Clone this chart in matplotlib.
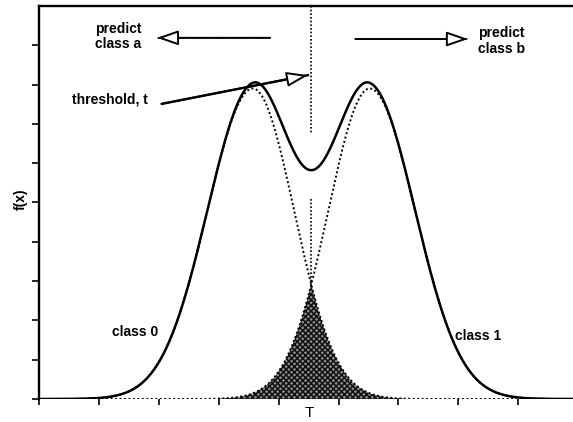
import matplotlib
matplotlib.use("Agg")
import matplotlib.pyplot as plt
import numpy as np

plt.rcParams["font.family"] = ["Liberation Sans", "DejaVu Sans"]
plt.rcParams["hatch.linewidth"] = 1.1

# two class-conditional densities (two-piece normal: wider on the outer side)
class_names = ["class 0", "class 1"]
class_means = [3.57, 5.52]
class_peak = 7.9
sigma_outer = 0.76
sigma_inner = 0.69
threshold = 4.545

x_ticks = [0, 1, 2, 3, 4, 5, 6, 7, 8]
y_ticks = [0, 1, 2, 3, 4, 5, 6, 7, 8, 9]

x = np.linspace(0, 9.2, 1200)


def density(mu, inner_right):
    s = np.where((x > mu) == inner_right, sigma_inner, sigma_outer)
    return class_peak * np.exp(-(x - mu) ** 2 / (2 * s ** 2))


f0 = density(class_means[0], True)
f1 = density(class_means[1], False)
mix = f0 + f1
overlap = np.minimum(f0, f1)
y_cross = class_peak * np.exp(-(threshold - class_means[0]) ** 2 / (2 * sigma_inner ** 2))

fig = plt.figure(figsize=(5.73, 4.22), dpi=100)
ax = fig.add_axes([39 / 573, 23 / 422, 534 / 573, 393 / 422])
ax.set_xlim(0, 534 / 59.9)
ax.set_ylim(0, 10)

ax.fill_between(x, 0, overlap, where=overlap > 0.01, facecolor="#8c8c8c",
                edgecolor="#111111", hatch="xxxxxx", lw=0)
ax.plot(x, f0, color="black", lw=1.4, ls=(0, (1, 1.3)))
ax.plot(x, f1, color="black", lw=1.4, ls=(0, (1, 1.3)))
ax.plot(x, mix, color="black", lw=1.8)

# threshold line (broken around the dip)
ax.plot([threshold, threshold], [10, 6.77], color="black", lw=1.2, ls=(0, (1, 1.2)))
ax.plot([threshold, threshold], [5.1, y_cross], color="black", lw=1.2, ls=(0, (1, 1.2)))


def open_arrow(tail, tip, dotted):
    ax.plot([tail[0], tip[0]], [tail[1], tip[1]], color="black",
            lw=1.3 if dotted else 1.7, ls=(0, (1, 0.7)) if dotted else "-")
    ax.annotate("", xy=tip, xytext=tail,
                arrowprops=dict(arrowstyle="-|>,head_length=1.3,head_width=0.45",
                                fc="white", ec="black", lw=1.4, shrinkA=0, shrinkB=0))


open_arrow((3.86, 9.19), (1.97, 9.19), True)
open_arrow((5.28, 9.16), (7.16, 9.16), True)
open_arrow((2.05, 7.51), (4.49, 8.24), False)

lab = dict(fontsize=10, fontweight="bold", color="black")
ax.text(0.93, 9.6, "predict\nclass a", ha="left", va="top", linespacing=1.15, **lab)
ax.text(7.33, 9.48, "predict\nclass b", ha="left", va="top", linespacing=1.15, **lab)
ax.text(0.55, 7.61, "threshold, t", ha="left", va="center", **lab)
ax.text(1.22, 1.70, class_names[0], ha="left", va="center", **lab)
ax.text(6.94, 1.60, class_names[1], ha="left", va="center", **lab)
ax.text(threshold - 0.04, -0.17, "T", ha="center", va="top", fontsize=11, color="black")
fig.text(21 / 573, 1 - 199 / 422, "f(x)", rotation=90, ha="center", va="center", **lab)

ax.set_xticks(x_ticks)
ax.set_yticks(y_ticks)
ax.set_xticklabels([])
ax.set_yticklabels([])
ax.tick_params(axis="x", direction="out", length=4, width=1.2)
ax.tick_params(axis="y", direction="out", length=5, width=1.2)
ax.spines["bottom"].set_visible(False)
ax.spines["right"].set_visible(False)
ax.spines["left"].set_linewidth(1.7)
ax.spines["top"].set_linewidth(1.7)

fig.savefig("out.png", dpi=100, facecolor="white")
